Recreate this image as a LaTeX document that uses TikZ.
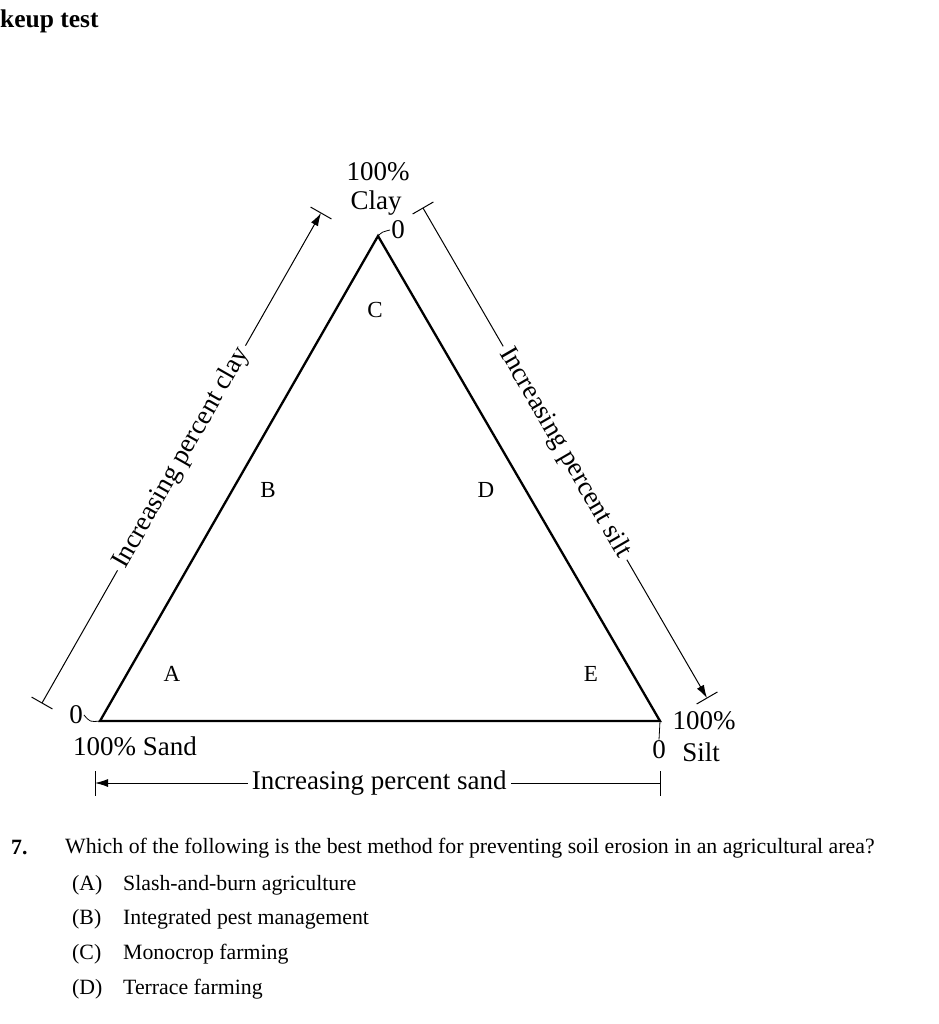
\documentclass[tikz,border=0pt]{standalone}
\usepackage{fontspec}
\setmainfont{Liberation Serif}
\usetikzlibrary{arrows.meta,calc}
\begin{document}
\begin{tikzpicture}[x=1pt,y=-1pt,
  big/.style={font=\fontsize{27}{29}\selectfont, inner sep=1pt},
  region/.style={font=\fontsize{23}{25}\selectfont, inner sep=0pt},
  qtext/.style={font=\fontsize{21.8}{24}\selectfont, inner sep=0pt, anchor=west},
  edge/.style={line width=2.3pt},
  dimline/.style={line width=1pt},
  tip/.style={-{Latex[length=13pt,width=8pt]}},
  lead/.style={line width=0.8pt}]
\useasboundingbox (0,0) rectangle (938,1024);

% heading
\node[font=\bfseries\fontsize{25.5}{27}\selectfont, anchor=west, inner sep=0pt] (head) at (0,21) {keup test};

% triangle
\coordinate (sand) at (100,721);
\coordinate (clay) at (378,236);
\coordinate (silt) at (660,721);
\draw[edge, line join=miter] (sand) -- (clay) -- (silt) -- cycle;

% corner labels
\node[big] (clay100) at (378,172) {100\%};
\node[big] (clayname) at (376,203) {Clay};
\node[big] (clay0) at (398,230) {0};
\draw[lead] (clay) .. controls (382,232) .. (clay0.west);
\node[big] (sand0) at (76,715) {0};
\draw[lead] (sand0.east) .. controls (90,722) .. (sand);
\node[big] (sandname) at (135,746) {100\% Sand};
\node[big] (silt100) at (704,721) {100\%};
\node[big] (silt0) at (659,750) {0};
\draw[lead] (silt) -- (silt0.north);
\node[big] (siltname) at (701,752) {Silt};

% region letters
\node[region] (C) at (375,310) {C};
\node[region] (B) at (268,490) {B};
\node[region] (D) at (486,490) {D};
\node[region] (A) at (172,674) {A};
\node[region] (E) at (591,674) {E};

% left dimension line: increasing clay
\coordinate (l1) at (42,703);
\coordinate (l2) at (321,213);
\draw[dimline] ($(l1)!12pt!90:(l2)$) -- ($(l1)!12pt!-90:(l2)$);
\draw[dimline] ($(l2)!12pt!90:(l1)$) -- ($(l2)!12pt!-90:(l1)$);
\draw[dimline, tip] (l1) -- node[big, sloped, fill=white, inner sep=4pt] (claytext) {Increasing percent clay} (l2);

% right dimension line: increasing silt
\coordinate (r1) at (423,208);
\coordinate (r2) at (707,698);
\draw[dimline] ($(r1)!12pt!90:(r2)$) -- ($(r1)!12pt!-90:(r2)$);
\draw[dimline] ($(r2)!12pt!90:(r1)$) -- ($(r2)!12pt!-90:(r1)$);
\draw[dimline, tip] (r1) -- node[big, sloped, fill=white, inner sep=4pt] (silttext) {Increasing percent silt} (r2);

% bottom dimension line: increasing sand
\coordinate (b1) at (660,783);
\coordinate (b2) at (95,783);
\draw[dimline] (660,771) -- (660,796);
\draw[dimline] (95,771) -- (95,796);
\draw[dimline, tip] (b1) -- node[big, fill=white, inner sep=4pt, pos=0.497] (sandtext) {Increasing percent sand} (b2);

% question
\node[font=\bfseries\fontsize{21.8}{24}\selectfont, anchor=west, inner sep=0pt] (qnum) at (11,848) {7.};
\node[qtext] (q) at (65,848) {Which of the following is the best method for preventing soil erosion in an agricultural area?};
\node[qtext] (oA) at (72,885) {(A)};
\node[qtext] (tA) at (123,885) {Slash-and-burn agriculture};
\node[qtext] (oB) at (72,919) {(B)};
\node[qtext] (tB) at (123,919) {Integrated pest management};
\node[qtext] (oC) at (72,954) {(C)};
\node[qtext] (tC) at (123,954) {Monocrop farming};
\node[qtext] (oD) at (72,989) {(D)};
\node[qtext] (tD) at (123,989) {Terrace farming};
\end{tikzpicture}
\end{document}
